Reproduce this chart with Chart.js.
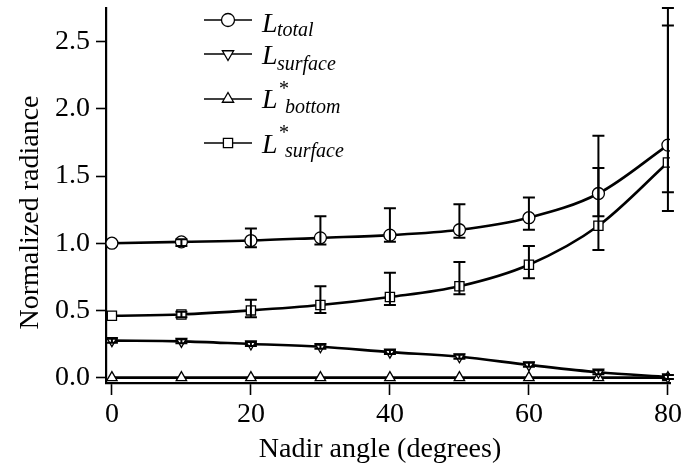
<!DOCTYPE html>
<html><head><meta charset="utf-8">
<script src="https://cdn.jsdelivr.net/npm/chart.js@4/dist/chart.umd.min.js"></script>
<style>html,body{margin:0;padding:0;background:#fff}#w{width:681px;height:465px;position:relative}</style>
</head><body><div id="w"><canvas id="c"></canvas></div>
<script>
const angles = [0,10,20,30,40,50,60,70,80];
const lTotal = [1.00,1.01,1.02,1.04,1.06,1.10,1.19,1.37,1.73];
const lTotalHi = [1.00,1.03,1.11,1.20,1.26,1.29,1.34,1.80,2.75];
const lTotalLo = [1.00,0.98,0.97,0.99,1.01,1.04,1.10,1.20,1.38];
const lSurface = [0.275,0.27,0.25,0.23,0.19,0.155,0.095,0.04,0.005];
const lSurfaceHi = [0.29,0.285,0.265,0.245,0.205,0.17,0.11,0.055,0.02];
const lSurfaceLo = [0.26,0.255,0.235,0.215,0.175,0.14,0.08,0.025,-0.01];
const lBottomStar = [0,0,0,0,0,0,0,0,0];
const lSurfaceStar = [0.46,0.47,0.50,0.54,0.60,0.68,0.84,1.13,1.60];
const lSurfaceStarHi = [0.46,0.49,0.58,0.68,0.78,0.86,0.98,1.56,2.62];
const lSurfaceStarLo = [0.46,0.45,0.45,0.48,0.54,0.62,0.74,0.95,1.24];
const xTicks = [0,20,40,60,80];
const yTicks = [0,0.5,1.0,1.5,2.0,2.5];

const FONT = "'Liberation Serif','DejaVu Serif',serif";
const pts = ys => angles.map((a,i)=>({x:a,y:ys[i]}));
const base = {borderColor:'#000',borderWidth:2.6,pointBackgroundColor:'#fff',pointBorderColor:'#000',pointBorderWidth:1.3,pointRadius:6,cubicInterpolationMode:'monotone',fill:false};
const datasets = [
  Object.assign({}, base, {label:'total', data:pts(lTotal), pointStyle:'circle', hi:lTotalHi, lo:lTotalLo}),
  Object.assign({}, base, {label:'surface', data:pts(lSurface), pointStyle:'triangle', pointRotation:180, hi:lSurfaceHi, lo:lSurfaceLo}),
  Object.assign({}, base, {label:'bottom*', data:pts(lBottomStar), pointStyle:'triangle'}),
  Object.assign({}, base, {label:'surface*', data:pts(lSurfaceStar), pointStyle:'rect', pointRadius:6.5, hi:lSurfaceStarHi, lo:lSurfaceStarLo})
];

const errPlugin = {
  id:'err',
  afterDatasetsDraw(chart){
    const ctx = chart.ctx, xs = chart.scales.x, ys = chart.scales.y;
    ctx.save(); ctx.strokeStyle='#000'; ctx.lineWidth=2;
    chart.data.datasets.forEach(ds=>{
      if(!ds.hi) return;
      angles.forEach((a,i)=>{
        if(ds.hi[i]===ds.lo[i]) return;
        const px = xs.getPixelForValue(a), t = ys.getPixelForValue(ds.hi[i]), b = ys.getPixelForValue(ds.lo[i]);
        ctx.beginPath(); ctx.moveTo(px,t); ctx.lineTo(px,b);
        ctx.moveTo(px-6,t); ctx.lineTo(px+6,t);
        ctx.moveTo(px-6,b); ctx.lineTo(px+6,b); ctx.stroke();
      });
    });
    ctx.restore();
  }
};

// shift axis titles slightly to match the reference placement
const titleShift = {
  id:'titleShift',
  afterLayout(chart){
    const shifts = {x:[-8,1], y:[0,17]};
    Object.keys(shifts).forEach(k=>{
      const s = chart.scales[k];
      if(s._shifted) return;
      const orig = s.drawTitle.bind(s);
      s.drawTitle = function(){
        const ctx = this.ctx; ctx.save(); ctx.translate(shifts[k][0], shifts[k][1]); orig(); ctx.restore();
      };
      s._shifted = true;
    });
  }
};

const legendItems = [
  {style:'circle', rot:0, star:false, sub:'total', y:20, lb:12, sb:16, sx:277},
  {style:'triangle', rot:180, star:false, sub:'surface', y:54, lb:10, sb:16, sx:277},
  {style:'triangle', rot:0, star:true, sub:'bottom', y:99, lb:9, sb:14, sx:285},
  {style:'rect', rot:0, star:true, sub:'surface', y:143, lb:10, sb:14, sx:285}
];
const legendPlugin = {
  id:'leg',
  afterDraw(chart){
    const ctx = chart.ctx;
    ctx.save();
    legendItems.forEach(it=>{
      const y = it.y;
      ctx.strokeStyle='#000'; ctx.lineWidth=1.6;
      ctx.beginPath(); ctx.moveTo(204,y); ctx.lineTo(252,y); ctx.stroke();
      ctx.fillStyle='#fff'; ctx.lineWidth=1.3;
      Chart.helpers.drawPoint(ctx,{pointStyle:it.style,rotation:it.rot,radius:6.5,borderWidth:1.3},228,y);
      ctx.fillStyle='#000'; ctx.textBaseline='alphabetic'; ctx.textAlign='left';
      ctx.font = "italic 28px "+FONT;
      ctx.fillText('L', 262, y+it.lb);
      if(it.star){
        ctx.font = "20px "+FONT;
        ctx.fillText('*', 279, y-4);
      }
      ctx.font = "italic 20px "+FONT;
      ctx.fillText(it.sub, it.sx, y+it.sb);
    });
    ctx.restore();
  }
};

new Chart(document.getElementById('c'), {
  type:'line',
  data:{datasets},
  options:{
    responsive:true, maintainAspectRatio:false, animation:false,
    layout:{padding:{top:8,right:11,left:0,bottom:0}},
    plugins:{legend:{display:false}, tooltip:{enabled:false}},
    scales:{
      x:{type:'linear', min:-0.85, max:80.3,
        afterBuildTicks(s){ s.ticks = xTicks.map(v=>({value:v})); },
        afterFit(s){ s.height = 82; s.paddingLeft = 0; s.paddingRight = 0; },
        grid:{drawOnChartArea:false, drawTicks:true, tickLength:12, tickColor:'#000', tickWidth:1.6},
        border:{display:true, color:'#000', width:2.2},
        ticks:{color:'#000', font:{family:FONT, size:28}, padding:3, maxRotation:0},
        title:{display:true, text:'Nadir angle (degrees)', color:'#000', font:{family:FONT, size:28}, padding:{top:0,bottom:0}}
      },
      y:{type:'linear', min:-0.04, max:2.75,
        afterBuildTicks(s){ s.ticks = yTicks.map(v=>({value:v})); },
        afterFit(s){ s.width = 106; s.paddingTop = 0; s.paddingBottom = 0; },
        grid:{drawOnChartArea:false, drawTicks:true, tickLength:10, tickColor:'#000', tickWidth:1.6},
        border:{display:true, color:'#000', width:2.2},
        ticks:{color:'#000', font:{family:FONT, size:28}, padding:6, callback:v=>v.toFixed(1)},
        title:{display:true, text:'Normalized radiance', color:'#000', font:{family:FONT, size:28}, padding:{top:14,bottom:0}}
      }
    }
  },
  plugins:[titleShift, errPlugin, legendPlugin]
});
</script></body></html>
